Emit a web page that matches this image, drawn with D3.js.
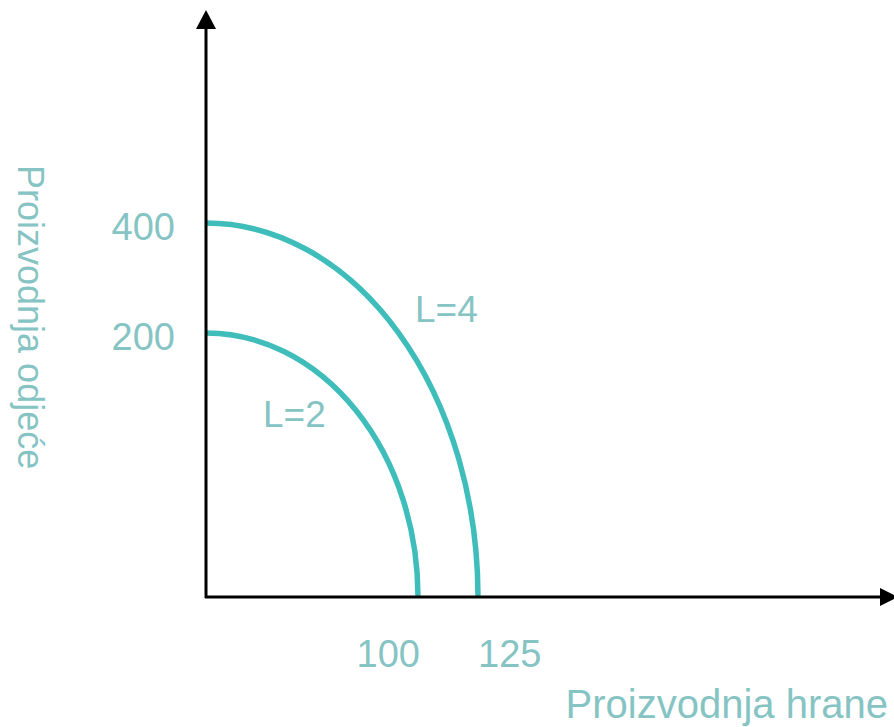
<!DOCTYPE html>
<html>
<head>
<meta charset="utf-8">
<script src="https://cdn.jsdelivr.net/npm/d3@7/dist/d3.min.js"></script>
<style>
  html, body { margin: 0; padding: 0; background: #fff; }
  svg { display: block; }
  text { font-family: "Liberation Sans", Arial, sans-serif; fill: #86c4c4; }
</style>
</head>
<body>
<svg id="chart" width="894" height="727"></svg>
<script>
// ---- data ----
const curveLabels = ["L=2", "L=4"];
const foodMax = [100, 125];       // Proizvodnja hrane (x)
const clothingMax = [200, 400];   // Proizvodnja odjeće (y)
const xTicks = [100, 125];
const yTicks = [200, 400];
const xTitle = "Proizvodnja hrane";
const yTitle = "Proizvodnja odjeće";

// ---- layout ----
const W = 894, H = 727;
const ox = 206, oy = 597;

// schematic (non-proportional) axes: piecewise linear scales
const x = d3.scaleLinear().domain([0, 100, 125]).range([ox, 418, 478]);
const y = d3.scaleLinear().domain([0, 200, 400]).range([oy, 333, 223]);

const svg = d3.select("#chart");

// curves: quarter ellipses through the axis intercepts
const curveColor = "#3fbdbb";
const curves = curveLabels.map((l, i) => ({ label: l, food: foodMax[i], cloth: clothingMax[i] }));
svg.selectAll("path.ppf").data(curves).enter().append("path")
  .attr("class", "ppf")
  .attr("d", d => {
    const rx = x(d.food) - x(0), ry = y(0) - y(d.cloth);
    return `M${x(0)},${y(d.cloth)} A${rx},${ry} 0 0 1 ${x(d.food)},${y(0)}`;
  })
  .attr("fill", "none")
  .attr("stroke", curveColor)
  .attr("stroke-width", 5.5);

// axes
svg.append("line").attr("x1", ox).attr("y1", oy + 1).attr("x2", ox).attr("y2", 26)
  .attr("stroke", "#000").attr("stroke-width", 3);
svg.append("path").attr("d", `M${ox},10 L${ox - 10},29 L${ox + 10},29 Z`).attr("fill", "#000");
svg.append("line").attr("x1", ox - 1).attr("y1", oy).attr("x2", 884).attr("y2", oy)
  .attr("stroke", "#000").attr("stroke-width", 3);
svg.append("path").attr("d", `M898,${oy} L880,${oy - 9} L880,${oy + 9} Z`).attr("fill", "#000");

// tick labels
svg.selectAll("text.xt").data(xTicks).enter().append("text")
  .attr("class", "xt")
  .attr("x", d => x(d) + (d === xTicks[0] ? 2 : 0))
  .attr("y", 667)
  .attr("text-anchor", (d, i) => i === 0 ? "end" : "start")
  .attr("font-size", 38)
  .text(d => d);

svg.selectAll("text.yt").data(yTicks).enter().append("text")
  .attr("class", "yt")
  .attr("x", 175)
  .attr("y", d => y(d) + 17)
  .attr("text-anchor", "end")
  .attr("font-size", 38)
  .text(d => d);

// curve labels
const labelPos = [{ dx: 263, dy: 427 }, { dx: 415, dy: 322 }];
svg.selectAll("text.cl").data(curves).enter().append("text")
  .attr("class", "cl")
  .attr("x", (d, i) => labelPos[i].dx)
  .attr("y", (d, i) => labelPos[i].dy)
  .attr("font-size", 37)
  .text(d => d.label);

// axis titles
svg.append("text")
  .attr("x", 888).attr("y", 718)
  .attr("text-anchor", "end")
  .attr("font-size", 40)
  .text(xTitle);

svg.append("text")
  .attr("transform", "translate(18,165) rotate(90)")
  .attr("text-anchor", "start")
  .attr("font-size", 36)
  .text(yTitle);
</script>
</body>
</html>
